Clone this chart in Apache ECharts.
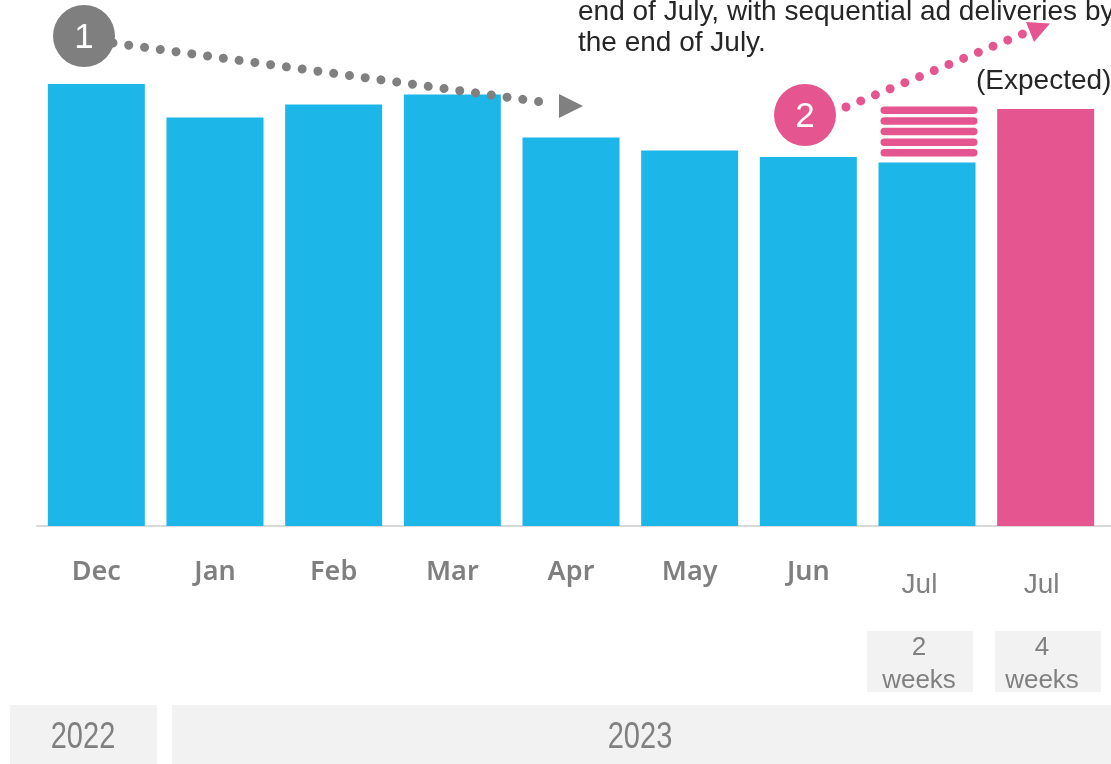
<!DOCTYPE html>
<html>
<head>
<meta charset="utf-8">
<script src="https://cdn.jsdelivr.net/npm/echarts@6/dist/echarts.min.js"></script>
<style>
html, body { margin: 0; padding: 0; background: #fff; }
#chart { width: 1111px; height: 764px; }
</style>
</head>
<body>
<div id="chart"></div>
<script>
// values (arbitrary units, baseline = 0)
const months = ['Dec', 'Jan', 'Feb', 'Mar', 'Apr', 'May', 'Jun', 'Jul', 'Jul'];
const actual = [88.4, 81.7, 84.3, 86.3, 77.7, 75.1, 73.8, 72.7, null];
const expected = [null, null, null, null, null, null, null, null, 83.4];
const stripe = [7, 73.9, 83.9]; // category index, from, to
const weekLabels = ['2\nweeks', '4\nweeks'];
const yearLabels = ['2022', '2023'];

const BLUE = '#1cb6e9';
const PINK = '#e5558f';
const GREY = '#7f7f7f';
const BAR_W = 97;

const chart = echarts.init(document.getElementById('chart'));

chart.setOption({
  animation: false,
  grid: { left: 37, right: 6, top: 26, bottom: 238 },
  xAxis: {
    type: 'category',
    data: months,
    axisTick: { show: false },
    axisLine: { lineStyle: { color: '#d9d9d9', width: 2 } },
    axisLabel: {
      interval: 0,
      margin: 28,
      formatter: function (v, i) {
        if (i < 7) return '{m|' + v + '}';
        return (i === 7 ? '{j1|' : '{j2|') + v + '}';
      },
      rich: {
        m: { fontFamily: 'Noto Sans', fontWeight: 600, fontSize: 27, color: GREY, lineHeight: 36 },
        j1: { fontFamily: 'Liberation Sans', fontSize: 28, color: '#808080', lineHeight: 62, padding: [0, 15, 0, 0] },
        j2: { fontFamily: 'Liberation Sans', fontSize: 28, color: '#808080', lineHeight: 62, padding: [0, 8, 0, 0] }
      }
    }
  },
  yAxis: { type: 'value', min: 0, max: 100, show: false },
  series: [
    {
      type: 'bar', data: actual, barWidth: BAR_W, barGap: '-100%',
      itemStyle: { color: BLUE }
    },
    {
      type: 'bar', data: expected, barWidth: BAR_W, barGap: '-100%',
      itemStyle: { color: PINK }
    },
    {
      type: 'custom',
      data: [stripe],
      encode: { x: 0, y: [1, 2] },
      renderItem: function (params, api) {
        const top = api.coord([api.value(0), api.value(2)]);
        const bot = api.coord([api.value(0), api.value(1)]);
        const h = bot[1] - top[1];
        const t = h * 0.15;
        const g = (h - 5 * t) / 4;
        const kids = [];
        for (let k = 0; k < 5; k++) {
          kids.push({
            type: 'rect',
            shape: { x: top[0] - BAR_W / 2 + 2, y: top[1] + k * (t + g), width: BAR_W, height: t, r: t / 2 },
            style: { fill: PINK }
          });
        }
        return { type: 'group', children: kids };
      }
    }
  ],
  graphic: [
    // axis line runs on to the right edge
    { type: 'line', shape: { x1: 1104, y1: 526, x2: 1111, y2: 526 }, style: { stroke: '#d9d9d9', lineWidth: 2 } },

    // note at the top
    {
      type: 'text', x: 578, y: -3, z: 10,
      style: {
        text: 'end of July, with sequential ad deliveries by\nthe end of July.',
        fontFamily: 'Liberation Sans', fontSize: 28, lineHeight: 31, fill: '#262626',
        textAlign: 'left', textVerticalAlign: 'top'
      }
    },
    {
      type: 'text', x: 976, y: 81, z: 10,
      style: { text: '(Expected)', fontFamily: 'Liberation Sans', fontSize: 28, fill: '#262626', textVerticalAlign: 'middle' }
    },

    // dotted arrows
    {
      type: 'line', z: 10, shape: { x1: 113, y1: 43, x2: 542, y2: 102 },
      style: { stroke: '#808080', lineWidth: 9, lineCap: 'round', lineDash: [0.01, 15.9] }
    },
    { type: 'polygon', z: 10, shape: { points: [[559, 94], [583, 106], [559, 118]] }, style: { fill: '#808080' } },
    {
      type: 'line', z: 10, shape: { x1: 846, y1: 107, x2: 1025, y2: 33 },
      style: { stroke: PINK, lineWidth: 9, lineCap: 'round', lineDash: [0.01, 15.9] }
    },
    { type: 'polygon', z: 10, shape: { points: [[1026, 22], [1050, 23.5], [1034, 42]] }, style: { fill: PINK } },

    // numbered circles
    { type: 'circle', z: 11, shape: { cx: 84, cy: 36, r: 31 }, style: { fill: GREY } },
    {
      type: 'text', z: 12, x: 84, y: 38,
      style: { text: '1', fontFamily: 'Liberation Sans', fontSize: 35, fill: '#fff', textAlign: 'center', textVerticalAlign: 'middle' }
    },
    { type: 'circle', z: 11, shape: { cx: 805, cy: 115, r: 31 }, style: { fill: PINK } },
    {
      type: 'text', z: 12, x: 805, y: 117,
      style: { text: '2', fontFamily: 'Liberation Sans', fontSize: 35, fill: '#fff', textAlign: 'center', textVerticalAlign: 'middle' }
    },

    // week boxes
    { type: 'rect', shape: { x: 867, y: 631, width: 106, height: 61 }, style: { fill: '#f2f2f2' } },
    { type: 'rect', shape: { x: 995, y: 631, width: 106, height: 61 }, style: { fill: '#f2f2f2' } },
    {
      type: 'text', x: 919, y: 664,
      style: { text: weekLabels[0], fontFamily: 'Liberation Sans', fontSize: 26, lineHeight: 33, fill: '#808080', textAlign: 'center', textVerticalAlign: 'middle' }
    },
    {
      type: 'text', x: 1042, y: 664,
      style: { text: weekLabels[1], fontFamily: 'Liberation Sans', fontSize: 26, lineHeight: 33, fill: '#808080', textAlign: 'center', textVerticalAlign: 'middle' }
    },

    // year boxes
    { type: 'rect', shape: { x: 10, y: 705, width: 147, height: 59 }, style: { fill: '#f2f2f2' } },
    { type: 'rect', shape: { x: 172, y: 705, width: 939, height: 59 }, style: { fill: '#f2f2f2' } },
    {
      type: 'text', x: 83, y: 738, scaleY: 1.25,
      style: { text: yearLabels[0], fontFamily: 'Liberation Sans', fontSize: 29, fill: '#808080', textAlign: 'center', textVerticalAlign: 'middle' }
    },
    {
      type: 'text', x: 640, y: 738, scaleY: 1.25,
      style: { text: yearLabels[1], fontFamily: 'Liberation Sans', fontSize: 29, fill: '#808080', textAlign: 'center', textVerticalAlign: 'middle' }
    }
  ]
});
</script>
</body>
</html>
